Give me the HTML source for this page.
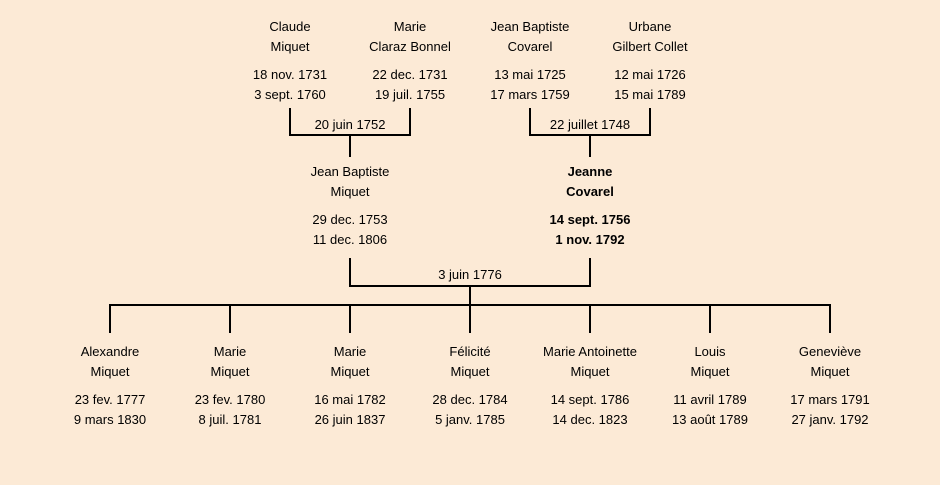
<!DOCTYPE html>
<html><head><meta charset="utf-8"><style>
body{margin:0;background:#fcead6;}
#c{position:relative;width:940px;height:485px;background:#fcead6;font-family:"Liberation Sans",sans-serif;font-size:13px;color:#000;overflow:hidden}
.t{position:absolute;width:160px;margin-left:-80px;text-align:center;line-height:20px;white-space:nowrap}
.b{font-weight:bold}
.l{position:absolute;background:#000}
</style></head><body><div id="c">
<div class="t" style="left:290px;top:17px">Claude<br>Miquet</div>
<div class="t" style="left:290px;top:65px">18 nov. 1731<br>3 sept. 1760</div>
<div class="t" style="left:410px;top:17px">Marie<br>Claraz Bonnel</div>
<div class="t" style="left:410px;top:65px">22 dec. 1731<br>19 juil. 1755</div>
<div class="t" style="left:530px;top:17px">Jean Baptiste<br>Covarel</div>
<div class="t" style="left:530px;top:65px">13 mai 1725<br>17 mars 1759</div>
<div class="t" style="left:650px;top:17px">Urbane<br>Gilbert Collet</div>
<div class="t" style="left:650px;top:65px">12 mai 1726<br>15 mai 1789</div>
<div class="t" style="left:350px;top:115px">20 juin 1752</div>
<div class="t" style="left:590px;top:115px">22 juillet 1748</div>
<div class="l" style="left:289px;top:108px;width:2px;height:28px"></div>
<div class="l" style="left:409px;top:108px;width:2px;height:28px"></div>
<div class="l" style="left:289px;top:134px;width:122px;height:2px"></div>
<div class="l" style="left:349px;top:134px;width:2px;height:23px"></div>
<div class="l" style="left:529px;top:108px;width:2px;height:28px"></div>
<div class="l" style="left:649px;top:108px;width:2px;height:28px"></div>
<div class="l" style="left:529px;top:134px;width:122px;height:2px"></div>
<div class="l" style="left:589px;top:134px;width:2px;height:23px"></div>
<div class="t" style="left:350px;top:162px">Jean Baptiste<br>Miquet</div>
<div class="t" style="left:350px;top:210px">29 dec. 1753<br>11 dec. 1806</div>
<div class="t b" style="left:590px;top:162px">Jeanne<br>Covarel</div>
<div class="t b" style="left:590px;top:210px">14 sept. 1756<br>1 nov. 1792</div>
<div class="t" style="left:470px;top:265px">3 juin 1776</div>
<div class="l" style="left:349px;top:258px;width:2px;height:29px"></div>
<div class="l" style="left:589px;top:258px;width:2px;height:29px"></div>
<div class="l" style="left:349px;top:285px;width:242px;height:2px"></div>
<div class="l" style="left:469px;top:285px;width:2px;height:21px"></div>
<div class="l" style="left:109px;top:304px;width:722px;height:2px"></div>
<div class="l" style="left:109px;top:304px;width:2px;height:29px"></div>
<div class="l" style="left:229px;top:304px;width:2px;height:29px"></div>
<div class="l" style="left:349px;top:304px;width:2px;height:29px"></div>
<div class="l" style="left:469px;top:304px;width:2px;height:29px"></div>
<div class="l" style="left:589px;top:304px;width:2px;height:29px"></div>
<div class="l" style="left:709px;top:304px;width:2px;height:29px"></div>
<div class="l" style="left:829px;top:304px;width:2px;height:29px"></div>
<div class="t" style="left:110px;top:342px">Alexandre<br>Miquet</div>
<div class="t" style="left:110px;top:390px">23 fev. 1777<br>9 mars 1830</div>
<div class="t" style="left:230px;top:342px">Marie<br>Miquet</div>
<div class="t" style="left:230px;top:390px">23 fev. 1780<br>8 juil. 1781</div>
<div class="t" style="left:350px;top:342px">Marie<br>Miquet</div>
<div class="t" style="left:350px;top:390px">16 mai 1782<br>26 juin 1837</div>
<div class="t" style="left:470px;top:342px">Félicité<br>Miquet</div>
<div class="t" style="left:470px;top:390px">28 dec. 1784<br>5 janv. 1785</div>
<div class="t" style="left:590px;top:342px">Marie Antoinette<br>Miquet</div>
<div class="t" style="left:590px;top:390px">14 sept. 1786<br>14 dec. 1823</div>
<div class="t" style="left:710px;top:342px">Louis<br>Miquet</div>
<div class="t" style="left:710px;top:390px">11 avril 1789<br>13 août 1789</div>
<div class="t" style="left:830px;top:342px">Geneviève<br>Miquet</div>
<div class="t" style="left:830px;top:390px">17 mars 1791<br>27 janv. 1792</div>
</div></body></html>
